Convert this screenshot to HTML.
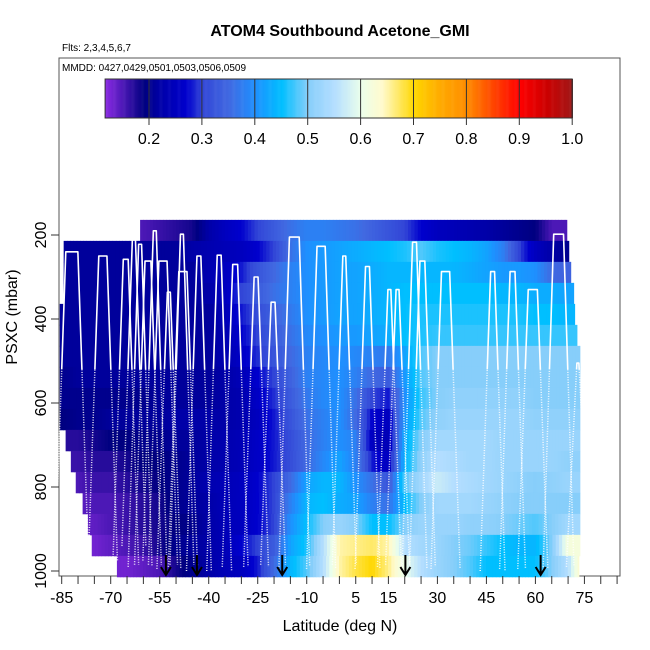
<!DOCTYPE html>
<html><head><meta charset="utf-8"><style>
html,body{margin:0;padding:0;background:#fff;}
svg{display:block;font-family:"Liberation Sans",sans-serif;}
</style></head><body>
<svg id="chart" width="650" height="650" viewBox="0 0 650 650" xmlns="http://www.w3.org/2000/svg">
<text x="340" y="36" text-anchor="middle" font-size="16" font-weight="bold">ATOM4 Southbound Acetone_GMI</text>
<text x="62" y="51" font-size="10">Flts: 2,3,4,5,6,7</text>
<rect x="59" y="58" width="561" height="518" fill="none" stroke="#555" stroke-width="1"/>
<text x="62" y="71" font-size="10">MMDD: 0427,0429,0501,0503,0506,0509</text>
<g id="heat"></g>
<g id="profiles"></g>
<g id="arrows"></g>
<g id="cbar"></g>
<g id="axes"></g>
<text x="340" y="631" text-anchor="middle" font-size="16">Latitude (deg N)</text>
<text transform="translate(17,317) rotate(-90)" text-anchor="middle" font-size="16">PSXC (mbar)</text>
</svg>
<script>
// ---- data ----
const latCenters = [-85,-80,-75,-70,-65,-60,-55,-50,-45,-40,-35,-30,-25,-20,-15,-10,-5,0,5,10,15,20,25,30,35,40,45,50,55,60,65,70,75];
const rowTop = [164,214,264,314,364,414,464,514,564,614,664,714,764,814,864,914,964];
const rowLatStart = [-61,-84.4,-84.4,-84.4,-85.6,-85.6,-85.6,-85.6,-85.6,-85.6,-83.8,-82.2,-80.7,-78.6,-77,-75.8,-68.1];
const rowLatEnd = [69.6,70.2,70.8,71.7,72,72.7,73.6,73.6,73.6,73.6,73.6,73.6,73.6,73.6,73.6,73.6,73.3];
const row0  = [0.15,0.15,0.15,0.15,0.15,0.15,0.16,0.17,0.18,0.22,0.25,0.27,0.3,0.33,0.36,0.38,0.38,0.37,0.36,0.34,0.32,0.3,0.27,0.25,0.24,0.23,0.22,0.21,0.2,0.19,0.15,0.15,0.15];
const row1  = [0.21,0.21,0.21,0.21,0.21,0.21,0.21,0.21,0.22,0.23,0.24,0.25,0.27,0.3,0.36,0.4,0.41,0.42,0.43,0.44,0.45,0.46,0.48,0.46,0.45,0.44,0.42,0.38,0.3,0.25,0.22,0.2,0.2];
const row2  = [0.21,0.21,0.21,0.21,0.21,0.21,0.21,0.21,0.21,0.23,0.25,0.28,0.32,0.35,0.38,0.4,0.41,0.42,0.42,0.43,0.44,0.44,0.44,0.44,0.44,0.43,0.42,0.41,0.41,0.4,0.35,0.34,0.34];
const row3  = [0.21,0.21,0.21,0.21,0.21,0.21,0.21,0.21,0.21,0.22,0.25,0.3,0.33,0.36,0.38,0.4,0.41,0.42,0.42,0.43,0.44,0.45,0.45,0.45,0.45,0.45,0.45,0.44,0.44,0.43,0.43,0.42,0.42];
const row4  = [0.21,0.21,0.21,0.21,0.21,0.21,0.21,0.21,0.21,0.21,0.24,0.28,0.31,0.34,0.37,0.4,0.41,0.42,0.42,0.43,0.44,0.45,0.46,0.46,0.46,0.46,0.46,0.46,0.46,0.45,0.45,0.44,0.44];
const row5  = [0.21,0.21,0.21,0.21,0.21,0.21,0.21,0.21,0.21,0.21,0.23,0.27,0.3,0.33,0.36,0.39,0.4,0.41,0.41,0.42,0.43,0.45,0.46,0.47,0.47,0.47,0.47,0.47,0.47,0.47,0.47,0.47,0.47];
const row6  = [0.21,0.21,0.21,0.21,0.21,0.21,0.21,0.21,0.21,0.21,0.23,0.26,0.29,0.32,0.35,0.38,0.39,0.4,0.39,0.38,0.37,0.42,0.48,0.5,0.5,0.5,0.5,0.5,0.5,0.5,0.5,0.5,0.5];
const row7  = [0.2,0.21,0.21,0.21,0.21,0.21,0.21,0.21,0.21,0.21,0.22,0.24,0.27,0.3,0.34,0.38,0.39,0.4,0.38,0.35,0.33,0.41,0.48,0.5,0.5,0.5,0.5,0.5,0.5,0.5,0.5,0.5,0.5];
const row8  = [0.2,0.2,0.2,0.2,0.2,0.2,0.21,0.21,0.21,0.21,0.22,0.23,0.26,0.29,0.33,0.37,0.39,0.4,0.36,0.3,0.28,0.4,0.47,0.5,0.51,0.51,0.51,0.51,0.51,0.5,0.5,0.5,0.5];
const row9  = [0.19,0.2,0.2,0.21,0.21,0.21,0.21,0.22,0.22,0.22,0.22,0.23,0.25,0.28,0.32,0.36,0.38,0.4,0.35,0.27,0.25,0.41,0.48,0.51,0.52,0.52,0.52,0.52,0.52,0.51,0.51,0.51,0.51];
const row10 = [0.17,0.17,0.18,0.19,0.19,0.2,0.2,0.21,0.21,0.22,0.23,0.24,0.26,0.28,0.31,0.35,0.38,0.4,0.38,0.25,0.24,0.43,0.5,0.53,0.53,0.53,0.53,0.52,0.52,0.52,0.52,0.52,0.52];
const row11 = [0.16,0.16,0.17,0.17,0.18,0.19,0.19,0.2,0.21,0.22,0.23,0.24,0.26,0.28,0.31,0.35,0.39,0.42,0.38,0.28,0.25,0.44,0.51,0.55,0.54,0.53,0.53,0.52,0.52,0.52,0.52,0.51,0.51];
const row12 = [0.15,0.15,0.16,0.16,0.17,0.18,0.19,0.2,0.21,0.23,0.24,0.25,0.27,0.3,0.35,0.42,0.44,0.44,0.4,0.36,0.32,0.48,0.53,0.57,0.55,0.54,0.53,0.52,0.51,0.5,0.51,0.52,0.52];
const row13 = [0.14,0.14,0.15,0.15,0.16,0.17,0.18,0.2,0.21,0.22,0.24,0.25,0.27,0.3,0.38,0.44,0.45,0.43,0.42,0.38,0.36,0.45,0.5,0.53,0.53,0.53,0.52,0.51,0.5,0.5,0.5,0.5,0.5];
const row14 = [0.14,0.14,0.14,0.15,0.16,0.17,0.18,0.19,0.2,0.22,0.24,0.25,0.27,0.3,0.4,0.45,0.5,0.52,0.5,0.45,0.45,0.5,0.52,0.52,0.52,0.51,0.51,0.5,0.49,0.48,0.5,0.53,0.53];
const row15 = [0.13,0.13,0.13,0.14,0.15,0.16,0.18,0.2,0.21,0.22,0.24,0.27,0.3,0.33,0.42,0.46,0.55,0.65,0.66,0.67,0.65,0.55,0.53,0.52,0.5,0.49,0.47,0.45,0.44,0.44,0.5,0.62,0.62];
const row16 = [0.13,0.13,0.13,0.13,0.13,0.14,0.15,0.18,0.2,0.22,0.24,0.25,0.28,0.35,0.44,0.48,0.55,0.65,0.68,0.7,0.66,0.6,0.55,0.52,0.5,0.48,0.45,0.45,0.45,0.45,0.5,0.55,0.68];
const rows = [row0,row1,row2,row3,row4,row5,row6,row7,row8,row9,row10,row11,row12,row13,row14,row15,row16];

const profLat = [-81.9,-72.4,-65.4,-62.9,-61,-58.6,-56.5,-54,-52.2,-47.9,-48.2,-43,-36.8,-31.9,-25.5,-20.3,-13.8,-5.6,1.5,8.6,15.3,17.8,23,25.4,32.5,46.9,53,59.2,67.1,73];
const profTop = [240,250,258,205,222,262,190,262,336,287,198,250,248,270,300,360,205,227,250,275,330,330,217,262,287,287,287,330,198,505];
const profWidth = [3.7,2.5,1.5,0.9,0.9,1.8,0.9,2.5,0.9,2.5,0.9,1.2,1.2,1.5,1.2,1.2,3,2.5,0.9,1.2,0.9,0.9,1.2,1.5,2.5,1.2,1.5,2.8,3,0.6];
const profBot = [960,975,985,940,990,985,975,985,995,990,985,1000,1000,990,990,985,990,995,985,995,990,985,995,990,995,1000,995,995,990,990];

const arrowLat = [-53.1,-43.6,-17.5,20.2,61.6];

const cbTicks = [0.2,0.3,0.4,0.5,0.6,0.7,0.8,0.9,1.0];
const xTickLabels = [-85,-70,-55,-40,-25,-10,5,15,30,45,60,75];
const yTickLabels = [200,400,600,800,1000];

// ---- scales ----
const X = lat => 61.7 + (lat + 85) * 3.267;
const Y = p => 235 + (p - 200) * 0.42;
const CB = v => 149 + (v - 0.2) * 529;
const NS = 'http://www.w3.org/2000/svg';
function mk(tag, attrs, parent){const e=document.createElementNS(NS,tag);for(const k in attrs)e.setAttribute(k,attrs[k]);parent.appendChild(e);return e;}

const stops = [[0.117,[138,43,226]],[0.19,[0,0,128]],[0.22,[0,0,168]],[0.27,[0,0,205]],[0.3,[50,70,215]],[0.35,[65,105,225]],[0.4,[30,144,255]],[0.45,[0,191,255]],[0.5,[135,206,250]],[0.55,[180,222,255]],[0.6,[235,255,235]],[0.64,[255,250,205]],[0.7,[255,215,0]],[0.75,[255,170,0]],[0.8,[255,140,0]],[0.85,[255,69,0]],[0.9,[255,0,0]],[0.95,[205,0,0]],[1.0,[160,24,24]]];
function color(v){
  if(v<=stops[0][0])return 'rgb('+stops[0][1]+')';
  for(let i=1;i<stops.length;i++){if(v<=stops[i][0]){const a=stops[i-1],b=stops[i];const t=(v-a[0])/(b[0]-a[0]);return 'rgb('+a[1].map((c,j)=>Math.round(c+(b[1][j]-c)*t)).join(',')+')';}}
  return 'rgb('+stops[stops.length-1][1]+')';
}
function valAt(vals,lat){
  const f=(lat-latCenters[0])/5, i=Math.max(0,Math.min(latCenters.length-2,Math.floor(f))), t=Math.max(0,Math.min(1,f-i));
  return vals[i]+(vals[i+1]-vals[i])*t;
}

// ---- heatmap ----
const heat=document.getElementById('heat');
rows.forEach((vals,r)=>{
  const y0=Y(rowTop[r]), y1=Y(rowTop[r]+50);
  for(let a=rowLatStart[r]; a<rowLatEnd[r]; a+=1){
    const b=Math.min(a+1,rowLatEnd[r]);
    const e=mk('rect',{x:X(a),y:y0,width:X(b)-X(a)+0.5,height:y1-y0+0.4,fill:color(valAt(vals,(a+b)/2))},heat);
    
    
  }
});

// ---- profiles ----
const prof=document.getElementById('profiles');
profLat.forEach((lc,i)=>{
  const w=profWidth[i]/2, s=3.2;
  const L0=lc-w-s, L1=lc-w, R1=lc+w, R0=lc+w+s;
  const mid=Math.min(520,profBot[i]-50), fr=(mid-profTop[i])/(profBot[i]-profTop[i]);
  const solid=`M${X(L1-s*fr)},${Y(mid)} L${X(L1)},${Y(profTop[i])} L${X(R1)},${Y(profTop[i])} L${X(R1+s*fr)},${Y(mid)}`;
  const e1=mk('path',{d:solid,fill:'none',stroke:'#fff','stroke-width':1.6,'stroke-linejoin':'round'},prof);
  
  
  const e2=mk('path',{d:`M${X(L0)},${Y(profBot[i])} L${X(L1-s*fr)},${Y(mid)} M${X(R1+s*fr)},${Y(mid)} L${X(R0)},${Y(profBot[i])}`,fill:'none',stroke:'#fff','stroke-width':1.5,'stroke-dasharray':'1 1.5','stroke-opacity':0.9},prof);
  
  
});

// ---- arrows ----
const arr=document.getElementById('arrows');
arrowLat.forEach(l=>{
  const x=X(l);
  const g=mk('path',{d:`M${x},555 L${x},575 M${x-5},567 L${x},575 L${x+5},567`,fill:'none',stroke:'#000','stroke-width':2},arr);
  
  
});

// ---- color bar ----
const cb=document.getElementById('cbar');
for(let v=0.117;v<1.0;v+=0.002){
  const e=mk('rect',{x:CB(v),y:79,width:1.3,height:39,fill:color(v)},cb);
  
  
}
mk('rect',{x:CB(0.117),y:79,width:CB(1.0)-CB(0.117),height:39,fill:'none',stroke:'#333','stroke-width':1},cb);
cbTicks.forEach(v=>{
  const l=mk('line',{x1:CB(v),x2:CB(v),y1:79,y2:125,stroke:'#333','stroke-width':1},cb);
  
  
  const t=mk('text',{x:CB(v),y:144,'text-anchor':'middle','font-size':16},cb);
  t.textContent=v.toFixed(1);
  
  
});

// ---- axes ----
const ax=document.getElementById('axes');
for(let l=-85;l<=85;l+=5){
  const t=mk('line',{x1:X(l),x2:X(l),y1:576,y2:584,stroke:'#333','stroke-width':1},ax);
  
  
}
xTickLabels.forEach(l=>{
  const t=mk('text',{x:X(l),y:603,'text-anchor':'middle','font-size':16},ax);
  t.textContent=l;
  
  
});
yTickLabels.forEach(p=>{
  const t=mk('line',{x1:51,x2:59,y1:Y(p),y2:Y(p),stroke:'#333','stroke-width':1},ax);
  
  
  const s=mk('text',{transform:`translate(46,${Y(p)}) rotate(-90)`,'text-anchor':'middle','font-size':16},ax);
  s.textContent=p;
  
  
});
</script>
</body></html>
